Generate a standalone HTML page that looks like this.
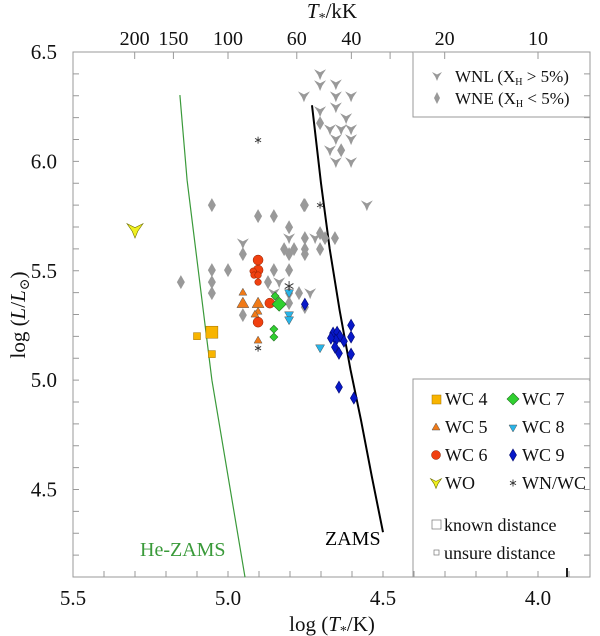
<!DOCTYPE html>
<html><head><meta charset="utf-8"><style>
html,body{margin:0;padding:0;background:#fff;}
svg{display:block;}
svg text{font-family:"Liberation Serif","DejaVu Serif",serif;}
</style></head><body>
<svg id="chart" width="600" height="636" viewBox="0 0 600 636" xmlns="http://www.w3.org/2000/svg" font-family="Liberation Serif, DejaVu Serif, serif">
<g id="axes"></g>
<g id="lines"></g>
<g id="marks"></g>
<g id="legend"></g>
</svg>
<script>
// ---- data (log T*, log L) ----
const wnlT=[4.703,4.703,4.652,4.755,4.652,4.603,4.703,4.652,4.619,4.671,4.635,4.603,4.652,4.603,4.671,4.652,4.603,4.552,4.952,4.803,4.835,4.852,4.735,4.719];
const wnlL=[6.399,6.349,6.353,6.298,6.298,6.298,6.230,6.248,6.198,6.147,6.147,6.147,6.102,6.102,6.051,5.997,5.997,5.800,5.626,5.649,5.448,5.398,5.398,5.649];
const wneT=[5.052,5.152,5.052,5.052,5.052,5.000,4.903,4.852,4.803,4.752,4.952,4.952,4.852,4.803,4.871,4.819,4.787,4.752,4.803,4.752,4.752,4.703,4.703,4.687,4.655,4.771,4.803,4.803,4.752,4.703,4.635,4.755];
const wneL=[5.800,5.448,5.503,5.448,5.398,5.503,5.750,5.750,5.699,5.800,5.576,5.297,5.503,5.503,5.448,5.599,5.599,5.599,5.576,5.576,5.649,5.672,5.599,5.649,5.649,5.398,5.352,5.398,5.334,6.175,6.051,5.800];
const wc4T=[5.052,5.100,5.052], wc4L=[5.219,5.201,5.119], wc4Big=[1,0,0];
const wc5T=[4.952,4.952,4.903,4.903,4.913,4.903], wc5L=[5.402,5.352,5.352,5.315,5.302,5.183], wc5Big=[0,1,1,0,0,0];
const wc6T=[4.903,4.903,4.919,4.916,4.903,4.903,4.865,4.903], wc6L=[5.549,5.503,5.498,5.480,5.480,5.448,5.352,5.265], wc6Big=[1,1,0,0,0,0,1,1];
const wc7T=[4.835,4.848,4.852,4.852], wc7L=[5.347,5.384,5.233,5.197], wc7Big=[1,0,0,0];
const wc8T=[4.803,4.803,4.803,4.703], wc8L=[5.398,5.297,5.274,5.146];
const wc9T=[4.752,4.603,4.603,4.603,4.661,4.648,4.639,4.652,4.655,4.642,4.642,4.594,4.668,4.626];
const wc9L=[5.347,5.251,5.197,5.119,5.215,5.219,5.201,5.183,5.151,5.123,4.968,4.918,5.192,5.178];
const woT=[5.300], woL=[5.686];
const wnwcT=[4.903,4.803,4.703,4.903], wnwcL=[5.146,5.430,5.800,6.097];
const zamsT=[4.729,4.700,4.672,4.640,4.605,4.571,4.536,4.500], zamsL=[6.257,5.900,5.600,5.320,5.050,4.817,4.560,4.305];
const heT=[5.155,5.132,5.052,4.945], heL=[6.303,5.914,5.000,4.099];
const xTicks=[5.5,5.0,4.5,4.0], xTickLabels=["5.5","5.0","4.5","4.0"];
const yTicks=[6.5,6.0,5.5,5.0,4.5], yTickLabels=["6.5","6.0","5.5","5.0","4.5"];
const topKK=[200,150,100,60,40,30,20,10], topLabels=["200","150","100","60","40","","20","10"];

// ---- scales ----
const X0=73,X1=590,Y0=52,Y1=577;
const T0=5.5,T1=5.5-(X1-X0)/310, L0=4.1,L1=6.5;
function sx(t){return X0+(T0-t)/(T0-T1)*(X1-X0);}
function sy(l){return Y1-(l-L0)/(L1-L0)*(Y1-Y0);}
const NS="http://www.w3.org/2000/svg";
const FF="Liberation Serif, DejaVu Serif, serif";
function mk(tag,attrs,parent,text){const e=document.createElementNS(NS,tag);for(const k in attrs)e.setAttribute(k,attrs[k]);if(tag==='text')e.setAttribute('font-family',FF);if(text!==undefined)e.textContent=text;parent.appendChild(e);return e;}
const axes=document.getElementById('axes'),lines=document.getElementById('lines'),marks=document.getElementById('marks'),leg=document.getElementById('legend');

let fr=mk('rect',{x:X0,y:Y0,width:X1-X0,height:Y1-Y0,fill:'none',stroke:'#999','stroke-width':1},axes);


for(let i=0;i<=17;i++){const t=Math.round((5.5-i*0.1)*10)/10;if(t<T1)break;const x=sx(t);
 let l=mk('line',{x1:x,x2:x,y1:Y1,y2:Y1-6,stroke:'#999'},axes);}
xTicks.forEach((t,i)=>{let tx=mk('text',{x:sx(t),y:605,'font-size':21,'text-anchor':'middle',fill:'#111'},axes,xTickLabels[i]);
 });
let bk=mk('line',{x1:567,x2:567,y1:Y1,y2:Y1-9,stroke:'#000','stroke-width':1.5},axes);
for(let i=0;i<=24;i++){const l=4.1+i*0.1;const y=sy(l);
 let a=mk('line',{x1:X0,x2:X0+6,y1:y,y2:y,stroke:'#999'},axes);
 let b=mk('line',{x1:X1,x2:X1-6,y1:y,y2:y,stroke:'#999'},axes);}
yTicks.forEach((l,i)=>{let tx=mk('text',{x:57,y:sy(l)+7,'font-size':21,'text-anchor':'end',fill:'#111'},axes,yTickLabels[i]);
 });
topKK.forEach((k,i)=>{const x=sx(Math.log10(k*1000));
 let l=mk('line',{x1:x,x2:x,y1:Y0,y2:Y0+7,stroke:'#999'},axes);
 if(topLabels[i]){let tx=mk('text',{x:x,y:45,'font-size':20,'text-anchor':'middle',fill:'#111'},axes,topLabels[i]);}});
let tt=mk('text',{x:332,y:18,'font-size':21,'text-anchor':'middle',fill:'#111'},axes);

tt.innerHTML='<tspan font-style="italic">T</tspan><tspan font-size="14" dy="4">*</tspan><tspan dy="-4">/kK</tspan>';
let xt=mk('text',{x:332,y:631,'font-size':21,'text-anchor':'middle',fill:'#111'},axes);

xt.innerHTML='log (<tspan font-style="italic">T</tspan><tspan font-size="14" dy="4">*</tspan><tspan dy="-4">/K)</tspan>';
let yt=mk('text',{x:0,y:0,'font-size':21,'text-anchor':'middle',fill:'#111',transform:'translate(25,315) rotate(-90)'},axes);

yt.innerHTML='log (<tspan font-style="italic">L</tspan>/<tspan font-style="italic">L</tspan><tspan font-size="14" dy="4">⊙</tspan><tspan dy="-4">)</tspan>';

function pathFrom(T,L){return T.map((t,i)=>(i?'L':'M')+sx(t).toFixed(1)+','+sy(L[i]).toFixed(1)).join(' ');}
let z=mk('path',{d:pathFrom(zamsT,zamsL),fill:'none',stroke:'#000','stroke-width':2},lines);
let h=mk('path',{d:pathFrom(heT,heL),fill:'none',stroke:'#3a9a3a','stroke-width':1.2},lines);
let zl=mk('text',{x:325,y:545,'font-size':20,fill:'#000'},lines,'ZAMS');
let hl=mk('text',{x:140,y:556,'font-size':20,fill:'#3a9a3a'},lines,'He-ZAMS');

function yShape(x,y,s,fill,stroke,parent){return mk('path',{d:`M${x-s},${y-s*0.8} L${x},${y-s*0.3} L${x+s},${y-s*0.8} L${x+s*0.35},${y+s*0.15} L${x},${y+s} L${x-s*0.35},${y+s*0.15} Z`,fill:fill,stroke:stroke,'stroke-width':0.6},parent);}
function diamond(x,y,w,hh,fill,stroke,parent){return mk('path',{d:`M${x},${y-hh} L${x+w},${y} L${x},${y+hh} L${x-w},${y} Z`,fill:fill,stroke:stroke,'stroke-width':0.6},parent);}
function tri(x,y,s,up,fill,parent){const d=up?`M${x},${y-s} L${x+s},${y+s*0.75} L${x-s},${y+s*0.75} Z`:`M${x},${y+s} L${x+s},${y-s*0.75} L${x-s},${y-s*0.75} Z`;return mk('path',{d:d,fill:fill,stroke:'#555','stroke-width':0.5},parent);}
function star(x,y,s,parent){const g=mk('g',{stroke:'#333','stroke-width':0.9},parent);for(let a=0;a<3;a++){const an=a*Math.PI/3+Math.PI/2;mk('line',{x1:x-s*Math.cos(an),y1:y-s*Math.sin(an),x2:x+s*Math.cos(an),y2:y+s*Math.sin(an)},g);}return g;}

wneT.forEach((t,i)=>{const e=diamond(sx(t),sy(wneL[i]),4,7,'#999','none',marks);});
wnlT.forEach((t,i)=>{const e=yShape(sx(t),sy(wnlL[i]),6,'#999','none',marks);});
wc4T.forEach((t,i)=>{const s=wc4Big[i]?6:3.5;const e=mk('rect',{x:sx(t)-s,y:sy(wc4L[i])-s,width:2*s,height:2*s,fill:'#f8b400',stroke:'#a07000','stroke-width':0.5},marks);});
wc5T.forEach((t,i)=>{const e=tri(sx(t),sy(wc5L[i]),wc5Big[i]?6:4,true,'#f07a18',marks);});
wc6T.forEach((t,i)=>{const e=mk('circle',{cx:sx(t),cy:sy(wc6L[i]),r:wc6Big[i]?5:3.3,fill:'#f04010',stroke:'#8a2000','stroke-width':0.5},marks);});
wc7T.forEach((t,i)=>{const s=wc7Big[i]?7:4;const e=diamond(sx(t),sy(wc7L[i]),s,s,'#30d030','#207020',marks);});
wc8T.forEach((t,i)=>{const e=tri(sx(t),sy(wc8L[i]),4.5,false,'#28b4e8',marks);});
wc9T.forEach((t,i)=>{const e=diamond(sx(t),sy(wc9L[i]),3.5,6,'#0818c8','#000870',marks);});
woT.forEach((t,i)=>{const e=yShape(sx(t),sy(woL[i]),8,'#f0f020','#707000',marks);});
wnwcT.forEach((t,i)=>{const e=star(sx(t),sy(wnwcL[i]),i===1?5:3.5,marks);});

let lb1=mk('path',{d:`M413,${Y0} L413,117 L${X1},117`,fill:'#fff',stroke:'#999'},leg);
let s1=yShape(437,76,5,'#999','none',leg);
let s2=diamond(437,98,3,6,'#999','none',leg);
let t1=mk('text',{x:455,y:82,'font-size':17,fill:'#111'},leg);t1.innerHTML='WNL (X<tspan font-size="10" dy="3">H</tspan><tspan dy="-3"> &gt; 5%)</tspan>';

let t2=mk('text',{x:455,y:104,'font-size':17,fill:'#111'},leg);t2.innerHTML='WNE (X<tspan font-size="10" dy="3">H</tspan><tspan dy="-3"> &lt; 5%)</tspan>';

let lb2=mk('path',{d:`M413,${Y1} L413,379 L${X1},379`,fill:'#fff',stroke:'#999'},leg);
for(let i=0;i<6;i++){const y=sy(4.1+i*0.1);if(y<379)break;let a=mk('line',{x1:X1,x2:X1-6,y1:y,y2:y,stroke:'#999'},leg);}
for(let i=0;i<6;i++){const x=sx(Math.round((4.4-i*0.1)*10)/10);let a=mk('line',{x1:x,x2:x,y1:Y1,y2:Y1-6,stroke:'#999'},leg);}
let bk2=mk('line',{x1:567,x2:567,y1:Y1,y2:Y1-9,stroke:'#000','stroke-width':1.5},leg);
function legText(x,y,txt,name){const e=mk('text',{x:x,y:y+6,'font-size':18,fill:'#111'},leg,txt);}
let e;
e=mk('rect',{x:432,y:395,width:9,height:9,fill:'#f8b400',stroke:'#a07000','stroke-width':0.5},leg);legText(445,399,'WC 4','legend-wc4-label');
e=diamond(513,399,6,6,'#30d030','#207020',leg);legText(522,399,'WC 7','legend-wc7-label');
e=tri(436,427,4,true,'#f07a18',leg);legText(445,427,'WC 5','legend-wc5-label');
e=tri(513,428,4,false,'#28b4e8',leg);legText(522,427,'WC 8','legend-wc8-label');
e=mk('circle',{cx:436,cy:455,r:4.5,fill:'#f04010',stroke:'#8a2000','stroke-width':0.5},leg);legText(445,455,'WC 6','legend-wc6-label');
e=diamond(513,455,3.5,6,'#0818c8','#000870',leg);legText(522,455,'WC 9','legend-wc9-label');
e=yShape(436,483,5.5,'#f0f020','#707000',leg);legText(445,483,'WO','legend-wo-label');
e=star(513,483,3.5,leg);legText(522,483,'WN/WC','legend-wnwc-label');
e=mk('rect',{x:432,y:520,width:9,height:9,fill:'#fff',stroke:'#777','stroke-width':0.7},leg);legText(444,525,'known distance','legend-known-label');
e=mk('rect',{x:434,y:550,width:5,height:5,fill:'#fff',stroke:'#777','stroke-width':0.7},leg);legText(444,553,'unsure distance','legend-unsure-label');
</script>
</body></html>
